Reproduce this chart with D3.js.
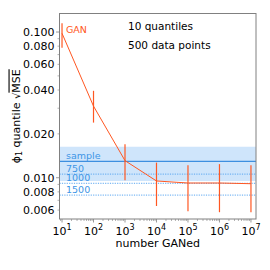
<!DOCTYPE html>
<html>
<head>
<meta charset="utf-8">
<script src="https://cdn.jsdelivr.net/npm/d3@7"></script>
<style>
  body { margin: 0; background: #fff; }
  text { font-family: "DejaVu Sans", sans-serif; }
</style>
</head>
<body>
<div id="chart"></div>
<script>
const width = 270;
const height = 270;
const plotLeft = 59.5, plotRight = 256, plotTop = 13.5, plotBottom = 219;

// data
const nGenerated = [1e1, 1e2, 1e3, 1e4, 1e5, 1e6, 1e7];
const ganMid  = [0.098, 0.031, 0.0131, 0.0095, 0.0092, 0.0092, 0.0091];
const ganLow  = [0.078, 0.0239, 0.0096, 0.0064, 0.0059, 0.0058, 0.0058];
const ganHigh = [0.115, 0.0395, 0.017, 0.0127, 0.0122, 0.0124, 0.0122];

const sampleValue = 0.01297;
const sampleBand = [0.00949, 0.01632];
const refLabels = ["750", "1000", "1500"];
const refValues = [0.01059, 0.00916, 0.0076];

const xMajor = [1e1, 1e2, 1e3, 1e4, 1e5, 1e6, 1e7];
const xExp = ["1", "2", "3", "4", "5", "6", "7"];
const yLabelled = [0.006, 0.008, 0.010, 0.020, 0.040, 0.060, 0.080, 0.100];

const orange = "#ff5722";
const blue = "#3d8fe0";
const blueText = "#3d95e6";
const frame = "#808080";

let svg = d3.select("#chart").append("svg")
    .attr("width", width)
    .attr("height", height);

let x = d3.scaleLog().domain([Math.pow(10, 0.92), Math.pow(10, 7.16)]).range([plotLeft, plotRight]);
let y = d3.scaleLog().domain([0.00521, 0.134]).range([plotBottom, plotTop]);

// sample band and reference lines
svg.append("rect")
    .attr("x", plotLeft).attr("width", plotRight - plotLeft)
    .attr("y", y(sampleBand[1]))
    .attr("height", y(sampleBand[0]) - y(sampleBand[1]))
    .attr("fill", "#cfe5fb");

svg.append("line")
    .attr("x1", plotLeft).attr("x2", plotRight)
    .attr("y1", y(sampleValue)).attr("y2", y(sampleValue))
    .attr("stroke", blue).attr("stroke-width", 1.2);

svg.selectAll(".ref")
    .data(refValues)
    .join("line")
    .attr("class", "ref")
    .attr("x1", plotLeft).attr("x2", plotRight)
    .attr("y1", d => y(d)).attr("y2", d => y(d))
    .attr("stroke", "#5aa6f0")
    .attr("stroke-width", 1)
    .attr("stroke-dasharray", "1.2,1.2");

svg.append("text")
    .attr("x", 66).attr("y", y(sampleValue) - 2.2)
    .attr("fill", blueText).style("font-size", "9.5px")
    .text("sample");

svg.selectAll(".reflabel")
    .data(refValues)
    .join("text")
    .attr("class", "reflabel")
    .attr("x", 66).attr("y", d => y(d) - 2.2)
    .attr("fill", blueText).style("font-size", "9.5px")
    .text((d, i) => refLabels[i]);

// GAN curve
let pts = nGenerated.map((n, i) => ({n: n, mid: ganMid[i], lo: ganLow[i], hi: ganHigh[i]}));

svg.append("path")
    .datum(pts)
    .attr("fill", "none")
    .attr("stroke", orange)
    .attr("stroke-width", 1)
    .attr("d", d3.line().x(d => x(d.n)).y(d => y(d.mid)));

svg.selectAll(".err")
    .data(pts)
    .join("line")
    .attr("class", "err")
    .attr("x1", d => x(d.n)).attr("x2", d => x(d.n))
    .attr("y1", d => y(d.lo)).attr("y2", d => y(d.hi))
    .attr("stroke", orange)
    .attr("stroke-width", 1.2);

svg.append("text")
    .attr("x", 66).attr("y", 32.5)
    .attr("fill", orange).style("font-size", "9.5px")
    .text("GAN");

// frame
svg.append("rect")
    .attr("x", plotLeft).attr("y", plotTop)
    .attr("width", plotRight - plotLeft).attr("height", plotBottom - plotTop)
    .attr("fill", "none").attr("stroke", frame).attr("stroke-width", 1);

// x ticks
let xMinor = [];
for (let e = 0; e <= 7; e++) {
    for (let m = 2; m <= 9; m++) {
        let v = m * Math.pow(10, e);
        if (v > x.domain()[0] && v < x.domain()[1]) xMinor.push(v);
    }
}
svg.selectAll(".xminor")
    .data(xMinor)
    .join("line")
    .attr("x1", d => x(d)).attr("x2", d => x(d))
    .attr("y1", plotBottom).attr("y2", plotBottom + 2)
    .attr("stroke", frame).attr("stroke-width", 0.6);
svg.selectAll(".xmajor")
    .data(xMajor)
    .join("line")
    .attr("x1", d => x(d)).attr("x2", d => x(d))
    .attr("y1", plotBottom).attr("y2", plotBottom + 3.5)
    .attr("stroke", frame).attr("stroke-width", 0.8);

let xt = svg.selectAll(".xtick")
    .data(xMajor)
    .join("text")
    .attr("class", "xtick")
    .attr("x", d => x(d))
    .attr("y", 234.5)
    .attr("text-anchor", "middle")
    .style("font-size", "11px")
    .attr("fill", "#000");
xt.append("tspan").text("10");
xt.append("tspan")
    .attr("dy", -4.5)
    .style("font-size", "8px")
    .text((d, i) => xExp[i]);

svg.append("text")
    .attr("x", (plotLeft + plotRight) / 2).attr("y", 246.5)
    .attr("text-anchor", "middle")
    .style("font-size", "11px")
    .text("number GANed");

// y ticks
let yMinor = [];
for (let e = -3; e <= -1; e++) {
    for (let m = 2; m <= 9; m++) {
        let v = m * Math.pow(10, e);
        if (v > y.domain()[0] && v < y.domain()[1]) yMinor.push(v);
    }
}
svg.selectAll(".yminor")
    .data(yMinor)
    .join("line")
    .attr("x1", plotLeft - 2).attr("x2", plotLeft)
    .attr("y1", d => y(d)).attr("y2", d => y(d))
    .attr("stroke", frame).attr("stroke-width", 0.6);
svg.selectAll(".ymajor")
    .data([0.01, 0.1])
    .join("line")
    .attr("x1", plotLeft - 3.5).attr("x2", plotLeft)
    .attr("y1", d => y(d)).attr("y2", d => y(d))
    .attr("stroke", frame).attr("stroke-width", 0.8);

svg.selectAll(".ytick")
    .data(yLabelled)
    .join("text")
    .attr("class", "ytick")
    .attr("x", 54.5)
    .attr("y", d => y(d))
    .attr("dy", "0.36em")
    .attr("text-anchor", "end")
    .style("font-size", "11px")
    .text(d => d3.format(".3f")(d));

// y axis label
let yl = svg.append("text")
    .attr("transform", `translate(19.5, ${(plotTop + plotBottom) / 2}) rotate(-90)`)
    .attr("text-anchor", "middle")
    .style("font-size", "11px");
yl.append("tspan").text("ϕ");
yl.append("tspan").attr("dy", 2.5).style("font-size", "8px").text("1");
yl.append("tspan").attr("dy", -2.5).text(" quantile ");
yl.append("tspan").style("font-size", "10px").text("√");
yl.append("tspan").style("text-decoration", "overline").text("MSE");

// annotation
svg.append("text").attr("x", 128).attr("y", 29.5)
    .style("font-size", "10.5px").text("10 quantiles");
svg.append("text").attr("x", 128).attr("y", 48.5)
    .style("font-size", "10.5px").text("500 data points");
</script>
</body>
</html>
